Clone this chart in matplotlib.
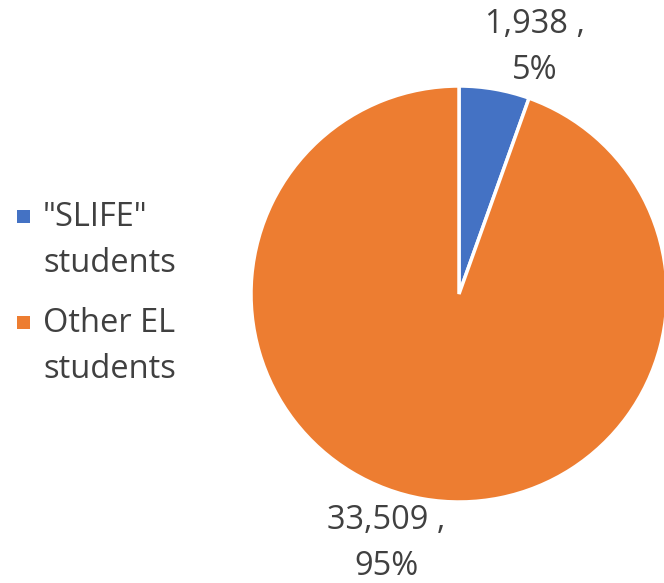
import matplotlib
matplotlib.use('Agg')
import matplotlib.pyplot as plt
from matplotlib.patches import Rectangle

categories = ['"SLIFE"\nstudents', 'Other EL\nstudents']
counts = [1938, 33509]
colors = ['#4472C4', '#ED7D31']

plt.rcParams['font.family'] = ['Open Sans', 'DejaVu Sans']
TEXT = '#404040'
FS = 23.5
LS = 1.53

W, H = 664, 583
fig = plt.figure(figsize=(W / 100, H / 100), dpi=100)
fig.patch.set_facecolor('white')

# pie axes: centre ~ (459, 294) px, radius ~ 208 px
cx, cy, r = 459, 294, 208
ax = fig.add_axes([(cx - r) / W, (H - cy - r) / H, 2 * r / W, 2 * r / H])
wedges, _ = ax.pie(counts, colors=colors, startangle=90, counterclock=False,
                   radius=1.0, wedgeprops=dict(edgecolor='white', linewidth=2.5))
ax.set_xlim(-1, 1)
ax.set_ylim(-1, 1)
ax.set_aspect('equal')
ax.axis('off')

total = sum(counts)
label_pos = [(0.365, 1.185), (-0.35, -1.198)]
for n, (lx, ly) in zip(counts, label_pos):
    ax.text(lx, ly, f'{n:,} ,\n{round(100 * n / total)}%', ha='center', va='center',
            fontsize=FS, color=TEXT, linespacing=LS, clip_on=False)

# legend drawn by hand on the left
lax = fig.add_axes([0, 0, 1, 1])
lax.set_xlim(0, W)
lax.set_ylim(H, 0)
lax.axis('off')
for i, (name, c) in enumerate(zip(categories, colors)):
    y0 = 216 + i * 106
    lax.add_patch(Rectangle((17, y0 - 6.5), 13, 13, facecolor=c, edgecolor='none'))
    lax.text(43, y0 + 24.5, name, ha='left', va='center', fontsize=FS,
             color=TEXT, linespacing=LS)

fig.savefig('out.png', dpi=100, facecolor='white')
